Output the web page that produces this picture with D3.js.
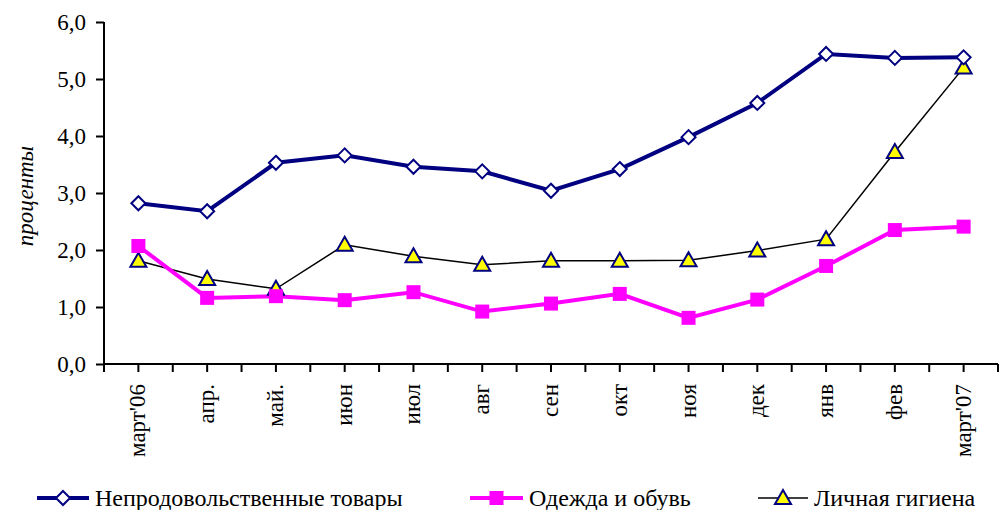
<!DOCTYPE html>
<html>
<head>
<meta charset="utf-8">
<script src="https://cdn.jsdelivr.net/npm/d3@7"></script>
<style>
  body { margin: 0; background: #fff; }
</style>
</head>
<body>
<div id="container"></div>
<script>
// месяцы по оси X
const months = ["март'06", "апр.", "май.", "июн", "июл", "авг", "сен", "окт", "ноя", "дек", "янв", "фев", "март'07"];
const nonFood = [2.82, 2.68, 3.53, 3.66, 3.46, 3.38, 3.04, 3.42, 3.98, 4.58, 5.44, 5.37, 5.38];
const clothes = [2.07, 1.16, 1.19, 1.12, 1.26, 0.92, 1.06, 1.23, 0.81, 1.13, 1.72, 2.35, 2.41];
const hygiene = [1.81, 1.49, 1.32, 2.09, 1.89, 1.74, 1.81, 1.81, 1.82, 1.99, 2.19, 3.72, 5.20];
const yTicks = [0, 1, 2, 3, 4, 5, 6];
const seriesNames = ["Непродовольственные товары", "Одежда и обувь", "Личная гигиена"];

const FONT = "'Liberation Serif', 'Times New Roman', 'DejaVu Serif', serif";
const W = 1003, H = 510;
const svg = d3.select("#container").append("svg").attr("width", W).attr("height", H);

const x = d3.scaleBand().domain(months).range([104, 998]);
const y = d3.scaleLinear().domain([0, 6]).range([364, 22]);
const fmt = (d) => d.toFixed(1).replace(".", ",");

// ось Y
const yAxis = svg.append("g")
    .attr("transform", "translate(104,0)")
    .call(d3.axisLeft(y).tickValues(yTicks).tickFormat(fmt).tickSize(8).tickPadding(10));
yAxis.select(".domain").attr("stroke", "#000").attr("stroke-width", 2).attr("d", "M0,22V364");
yAxis.selectAll(".tick line").attr("stroke-width", 2);
yAxis.selectAll("text")
    .attr("fill", "#000")
    .style("font-family", FONT)
    .style("font-size", "23px");

// ось X: деления на границах и в центрах категорий
const gx = svg.append("g").attr("transform", "translate(0,364)");
gx.append("line").attr("x1", 104).attr("x2", 998).attr("stroke", "#000").attr("stroke-width", 2);
const tickPos = [];
months.forEach((m) => {
    tickPos.push(x(m));
    tickPos.push(x(m) + x.bandwidth() / 2);
});
tickPos.push(998);
gx.selectAll("line.t").data(tickPos).enter().append("line")
    .attr("class", "t")
    .attr("x1", (d) => d).attr("x2", (d) => d)
    .attr("y1", 0).attr("y2", 8)
    .attr("stroke", "#000").attr("stroke-width", 2);
gx.selectAll("text").data(months).enter().append("text")
    .attr("transform", (d) => `translate(${x(d) + x.bandwidth() / 2 + 7},20) rotate(-90)`)
    .attr("text-anchor", "end")
    .style("font-family", FONT)
    .style("font-size", "23px")
    .text((d) => d);

// подпись оси Y
svg.append("text")
    .attr("transform", "translate(33,196) rotate(-90)")
    .attr("text-anchor", "middle")
    .style("font-family", FONT)
    .style("font-size", "23px")
    .style("font-style", "italic")
    .text("проценты");

const cx = (d, i) => x(months[i]) + x.bandwidth() / 2;
const line = d3.line().x(cx).y((d) => y(d));

// линии
svg.append("path").datum(hygiene).attr("d", line)
    .attr("fill", "none").attr("stroke", "#000").attr("stroke-width", 1.5);
svg.append("path").datum(clothes).attr("d", line)
    .attr("fill", "none").attr("stroke", "#ff00ff").attr("stroke-width", 4);
svg.append("path").datum(nonFood).attr("d", line)
    .attr("fill", "none").attr("stroke", "#000080").attr("stroke-width", 4);

const diamond = "M0,-7L7,0L0,7L-7,0Z";
const square = "M-7,-7H7V7H-7Z";
const tri = "M0,-8L8,6H-8Z";

function markers(data, path, fill, stroke, sw) {
    svg.append("g").selectAll("path").data(data).enter().append("path")
        .attr("d", path)
        .attr("transform", (d, i) => `translate(${cx(d, i)},${y(d)})`)
        .attr("fill", fill).attr("stroke", stroke).attr("stroke-width", sw);
}
markers(hygiene, tri, "#ffff00", "#000080", 2);
markers(clothes, square, "#ff00ff", "none", 0);
markers(nonFood, diamond, "#fff", "#000080", 2);

// легенда
const legend = [
    { name: seriesNames[0], x1: 37, x2: 89, color: "#000080", w: 4, mark: diamond, fill: "#fff", ms: "#000080" },
    { name: seriesNames[1], x1: 470, x2: 523, color: "#ff00ff", w: 4, mark: square, fill: "#ff00ff", ms: "none" },
    { name: seriesNames[2], x1: 758, x2: 808, color: "#000", w: 1.5, mark: tri, fill: "#ffff00", ms: "#000080" }
];
const lg = svg.append("g").selectAll("g").data(legend).enter().append("g");
lg.append("line")
    .attr("x1", (d) => d.x1).attr("x2", (d) => d.x2)
    .attr("y1", 498).attr("y2", 498)
    .attr("stroke", (d) => d.color).attr("stroke-width", (d) => d.w);
lg.append("path")
    .attr("d", (d) => d.mark)
    .attr("transform", (d) => `translate(${(d.x1 + d.x2) / 2},498)`)
    .attr("fill", (d) => d.fill).attr("stroke", (d) => d.ms).attr("stroke-width", 2);
lg.append("text")
    .attr("x", (d) => d.x2 + 6).attr("y", 506)
    .style("font-family", FONT)
    .style("font-size", "24px")
    .text((d) => d.name);
</script>
</body>
</html>
